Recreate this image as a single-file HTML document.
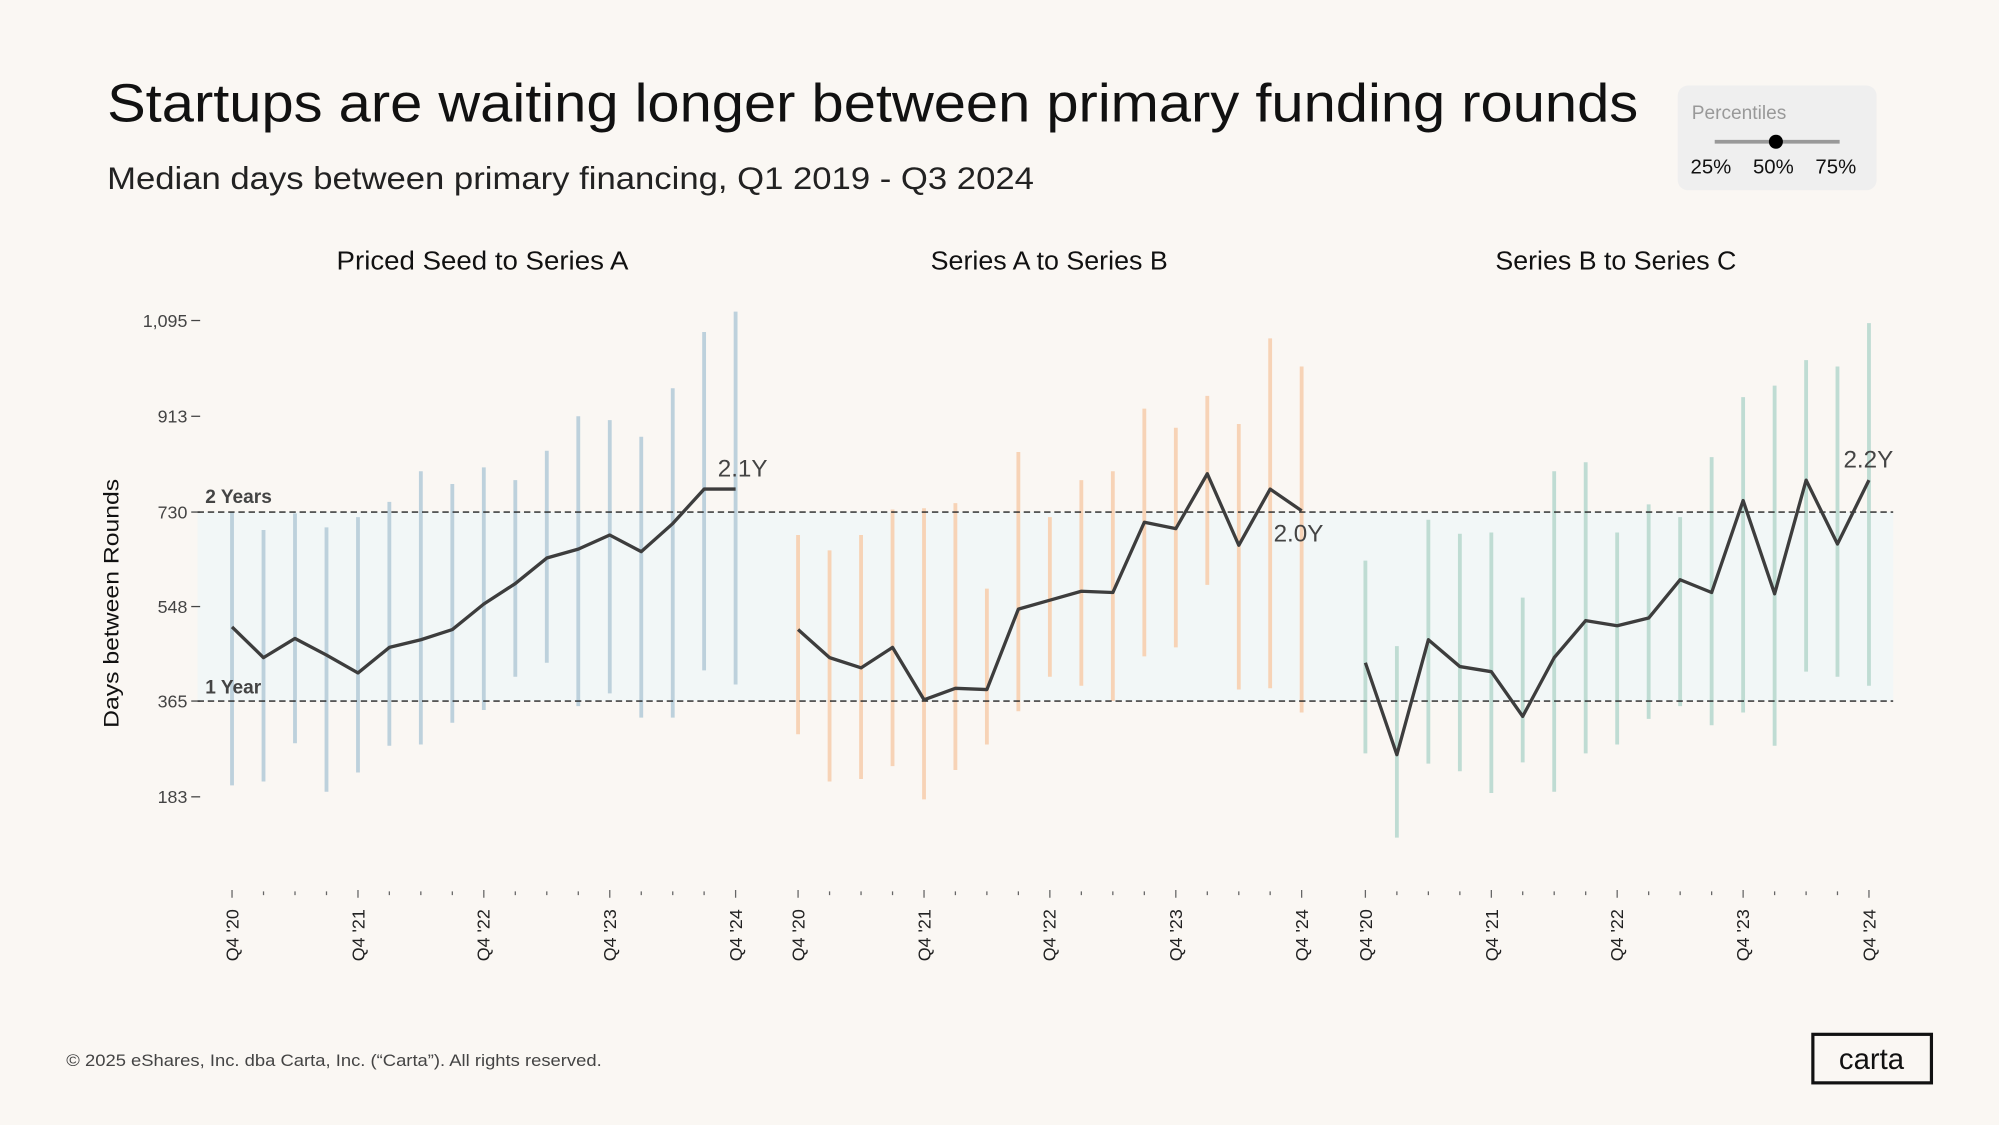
<!DOCTYPE html>
<html><head><meta charset="utf-8"><style>
html,body{margin:0;padding:0;background:#faf7f3;}
svg{display:block;}
text{font-family:"Liberation Sans",sans-serif;}
</style></head><body>
<svg width="1999" height="1125" viewBox="0 0 1568 881" preserveAspectRatio="none" xmlns="http://www.w3.org/2000/svg">
<rect width="1568" height="881" fill="#faf7f3"/>
<text x="84" y="95" font-size="42" fill="#111" textLength="1201" lengthAdjust="spacingAndGlyphs">Startups are waiting longer between primary funding rounds</text>
<text x="84" y="148" font-size="25" fill="#222" textLength="727" lengthAdjust="spacingAndGlyphs">Median days between primary financing, Q1 2019 - Q3 2024</text>
<rect x="1316" y="67" width="156" height="82" rx="8" fill="#efefef"/>
<text x="1327" y="93" font-size="15" fill="#999">Percentiles</text>
<line x1="1345" y1="111" x2="1443" y2="111" stroke="#999" stroke-width="3"/>
<circle cx="1393" cy="111" r="5.5" fill="#000"/>
<text x="1326" y="136" font-size="16" fill="#111">25%</text>
<text x="1375" y="136" font-size="16" fill="#111">50%</text>
<text x="1424" y="136" font-size="16" fill="#111">75%</text>
<text x="264" y="211" font-size="20" fill="#111" textLength="229" lengthAdjust="spacingAndGlyphs">Priced Seed to Series A</text>
<text x="730" y="211" font-size="20" fill="#111" textLength="186" lengthAdjust="spacingAndGlyphs">Series A to Series B</text>
<text x="1173" y="211" font-size="20" fill="#111" textLength="189" lengthAdjust="spacingAndGlyphs">Series B to Series C</text>
<rect x="155" y="401" width="1330" height="148" fill="#f2f7f7"/>
<g font-size="14" fill="#444" text-anchor="end">
<text x="147" y="256">1,095</text><text x="147" y="331">913</text><text x="147" y="406">730</text>
<text x="147" y="480">548</text><text x="147" y="554">365</text><text x="147" y="629">183</text>
</g>
<g stroke="#444" stroke-width="1"><line x1="150" y1="251" x2="157" y2="251"/><line x1="150" y1="326" x2="157" y2="326"/><line x1="150" y1="401" x2="157" y2="401"/><line x1="150" y1="475" x2="157" y2="475"/><line x1="150" y1="549" x2="157" y2="549"/><line x1="150" y1="624" x2="157" y2="624"/></g>
<text transform="translate(93,570) rotate(-90)" font-size="17" fill="#111" textLength="195" lengthAdjust="spacingAndGlyphs">Days between Rounds</text>
<path d="M182 401V615M206.7 415V612M231.4 402V582M256.1 413V620M280.8 405V605M305.4 393V584M330.1 369V583M354.8 379V566M379.5 366V556M404.2 376V530M428.9 353V519M453.6 326V553M478.3 329V543M503 342V562M527.7 304V562M552.3 260V525M577 244V536" stroke="#bdd1dc" stroke-width="3" fill="none"/>
<path d="M626 419V575M650.7 431V612M675.4 419V610M700.1 399V600M724.8 398V626M749.4 394V603M774.1 461V583M798.8 354V557M823.5 405V530M848.2 376V537M872.9 369V549M897.6 320V514M922.3 335V507M947 310V458M971.7 332V540M996.3 265V539M1021 287V558" stroke="#f7d3b6" stroke-width="3" fill="none"/>
<path d="M1071 439V590M1095.7 506V656M1120.4 407V598M1145.1 418V604M1169.8 417V621M1194.4 468V597M1219.1 369V620M1243.8 362V590M1268.5 417V583M1293.2 395V563M1317.9 405V553M1342.6 358V568M1367.3 311V558M1392 302V584M1416.7 282V526M1441.3 287V530M1466 253V537" stroke="#bfdcd3" stroke-width="3" fill="none"/>
<line x1="155" y1="401" x2="1485" y2="401" stroke="#222" stroke-width="1" stroke-dasharray="5,3"/>
<line x1="155" y1="549" x2="1485" y2="549" stroke="#222" stroke-width="1" stroke-dasharray="5,3"/>
<text x="161" y="394" font-size="15" font-weight="bold" fill="#444">2 Years</text>
<text x="161" y="543" font-size="15" font-weight="bold" fill="#444">1 Year</text>
<g fill="none" stroke="#3d3d3d" stroke-width="2.6" stroke-linejoin="round">
<polyline points="182,491 206.7,515 231.4,500 256.1,513 280.8,527 305.4,507 330.1,501 354.8,493 379.5,473 404.2,457 428.9,437 453.6,430 478.3,419 503,432 527.7,410 552.3,383 577,383"/>
<polyline points="626,493 650.7,515 675.4,523 700.1,507 724.8,548 749.4,539 774.1,540 798.8,477 823.5,470 848.2,463 872.9,464 897.6,409 922.3,414 947,371 971.7,427 996.3,383 1021,400"/>
<polyline points="1071,519 1095.7,591 1120.4,501 1145.1,522 1169.8,526 1194.4,561 1219.1,515 1243.8,486 1268.5,490 1293.2,484 1317.9,454 1342.6,464 1367.3,392 1392,465 1416.7,376 1441.3,426 1466,376"/>
</g>
<text x="563" y="373" font-size="19" fill="#444">2.1Y</text>
<text x="999" y="424" font-size="19" fill="#444">2.0Y</text>
<text x="1446" y="366" font-size="19" fill="#444">2.2Y</text>
<path d="M182 697V703M206.7 698V701M231.4 698V701M256.1 698V701M280.8 697V703M305.4 698V701M330.1 698V701M354.8 698V701M379.5 697V703M404.2 698V701M428.9 698V701M453.6 698V701M478.3 697V703M503 698V701M527.7 698V701M552.3 698V701M577 697V703
M626 697V703M650.7 698V701M675.4 698V701M700.1 698V701M724.8 697V703M749.4 698V701M774.1 698V701M798.8 698V701M823.5 697V703M848.2 698V701M872.9 698V701M897.6 698V701M922.3 697V703M947 698V701M971.7 698V701M996.3 698V701M1021 697V703
M1071 697V703M1095.7 698V701M1120.4 698V701M1145.1 698V701M1169.8 697V703M1194.4 698V701M1219.1 698V701M1243.8 698V701M1268.5 697V703M1293.2 698V701M1317.9 698V701M1342.6 698V701M1367.3 697V703M1392 698V701M1416.7 698V701M1441.3 698V701M1466 697V703" stroke="#666" stroke-width="1" fill="none"/>
<g font-size="14" fill="#222" text-anchor="end">
<text transform="translate(187,712) rotate(-90)">Q4 '20</text>
<text transform="translate(286,712) rotate(-90)">Q4 '21</text>
<text transform="translate(384,712) rotate(-90)">Q4 '22</text>
<text transform="translate(483,712) rotate(-90)">Q4 '23</text>
<text transform="translate(582,712) rotate(-90)">Q4 '24</text>
<text transform="translate(631,712) rotate(-90)">Q4 '20</text>
<text transform="translate(730,712) rotate(-90)">Q4 '21</text>
<text transform="translate(828,712) rotate(-90)">Q4 '22</text>
<text transform="translate(927,712) rotate(-90)">Q4 '23</text>
<text transform="translate(1026,712) rotate(-90)">Q4 '24</text>
<text transform="translate(1076,712) rotate(-90)">Q4 '20</text>
<text transform="translate(1175,712) rotate(-90)">Q4 '21</text>
<text transform="translate(1273,712) rotate(-90)">Q4 '22</text>
<text transform="translate(1372,712) rotate(-90)">Q4 '23</text>
<text transform="translate(1471,712) rotate(-90)">Q4 '24</text>
</g>
<text x="52" y="835" font-size="13" fill="#444" textLength="420" lengthAdjust="spacingAndGlyphs">© 2025 eShares, Inc. dba Carta, Inc. (“Carta”). All rights reserved.</text>
<rect x="1422" y="810" width="93" height="38" fill="none" stroke="#111" stroke-width="2.5"/>
<text x="1468" y="837" font-size="23" fill="#111" text-anchor="middle">carta</text>
</svg>
</body></html>
